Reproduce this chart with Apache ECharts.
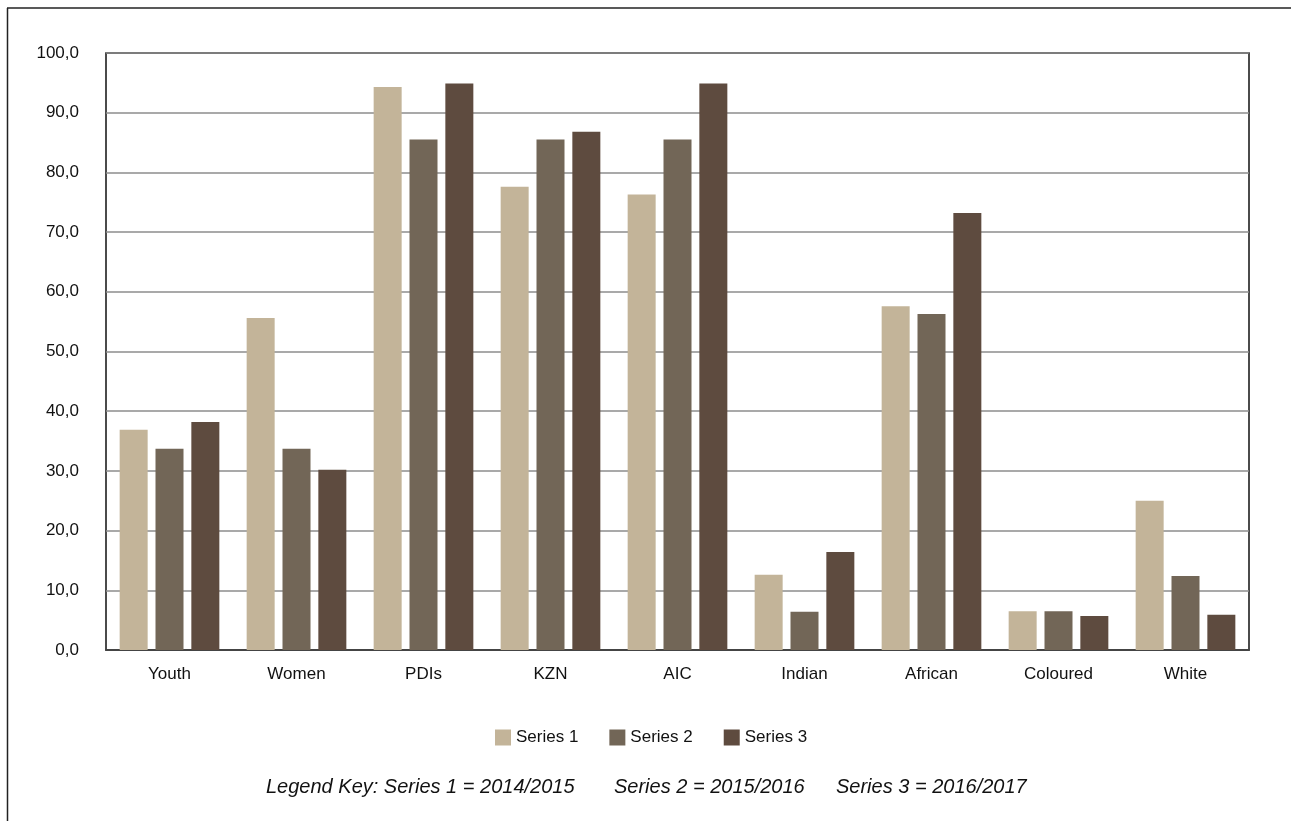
<!DOCTYPE html>
<html>
<head>
<meta charset="utf-8">
<script src="https://cdn.jsdelivr.net/npm/echarts@6/dist/echarts.min.js"></script>
<style>
  html, body { margin: 0; padding: 0; background: #fff; }
  #chart { width: 1291px; height: 821px; }
</style>
</head>
<body>
<div id="chart"></div>
<script>
// Categories and yearly values (percent)
const categories = ['Youth', 'Women', 'PDIs', 'KZN', 'AIC', 'Indian', 'African', 'Coloured', 'White'];
const series1 = [36.9, 55.6, 94.3, 77.6, 76.3, 12.6, 57.6, 6.5, 25.0];
const series2 = [33.7, 33.7, 85.5, 85.5, 85.5, 6.4, 56.3, 6.5, 12.4];
const series3 = [38.2, 30.2, 94.9, 86.8, 94.9, 16.4, 73.2, 5.7, 5.9];
const seriesNames = ['Series 1', 'Series 2', 'Series 3'];
const keyParts = ['Legend Key: Series 1 = 2014/2015', 'Series 2 = 2015/2016', 'Series 3 = 2016/2017'];

const colors = ['#c3b499', '#726657', '#5e4b3f'];
const font = '"Liberation Sans", Arial, Helvetica, sans-serif';

const chart = echarts.init(document.getElementById('chart'), null, { renderer: 'canvas' });

const bar = (name, data, color) => ({
  name,
  type: 'bar',
  data,
  barWidth: 28,
  barGap: '28%',
  itemStyle: { color },
  emphasis: { disabled: true }
});

// Italic key line under the legend, three spaced segments
const keyLefts = [266, 614, 836];
const keyText = keyParts.map((t, i) => ({
  type: 'text', left: keyLefts[i], top: 777,
  style: { text: t, font: 'italic 20px ' + font, fill: '#111' }
}));

chart.setOption({
  animation: false,
  backgroundColor: '#ffffff',
  textStyle: { fontFamily: font },
  grid: {
    left: 106, right: 42, top: 53, bottom: 171,
    show: true, borderColor: '#111', borderWidth: 1.5, backgroundColor: 'transparent'
  },
  legend: {
    data: seriesNames,
    left: 490,
    top: 724,
    itemWidth: 16,
    itemHeight: 16,
    itemGap: 31,
    icon: 'rect',
    textStyle: { fontSize: 17, color: '#111', fontFamily: font }
  },
  xAxis: {
    type: 'category',
    data: categories,
    axisLine: { show: true, lineStyle: { color: '#444', width: 2 } },
    axisTick: { show: false },
    axisLabel: { fontSize: 17, color: '#111', margin: 16, fontFamily: font }
  },
  yAxis: {
    type: 'value',
    min: 0, max: 100, interval: 10,
    axisLine: { show: false },
    axisTick: { show: false },
    splitLine: { show: true, lineStyle: { color: '#8c8c8c', width: 1.5 } },
    axisLabel: {
      fontSize: 17, color: '#111', margin: 27, fontFamily: font,
      formatter: v => v.toFixed(1).replace('.', ',')
    }
  },
  series: [
    bar(seriesNames[0], series1, colors[0]),
    bar(seriesNames[1], series2, colors[1]),
    bar(seriesNames[2], series3, colors[2])
  ],
  graphic: [
    { type: 'line', shape: { x1: 7.5, y1: 8, x2: 7.5, y2: 821 }, style: { stroke: '#222', lineWidth: 1.5 } },
    { type: 'line', shape: { x1: 7, y1: 8, x2: 1291, y2: 8 }, style: { stroke: '#222', lineWidth: 1.5 } }
  ].concat(keyText)
});
</script>
</body>
</html>
